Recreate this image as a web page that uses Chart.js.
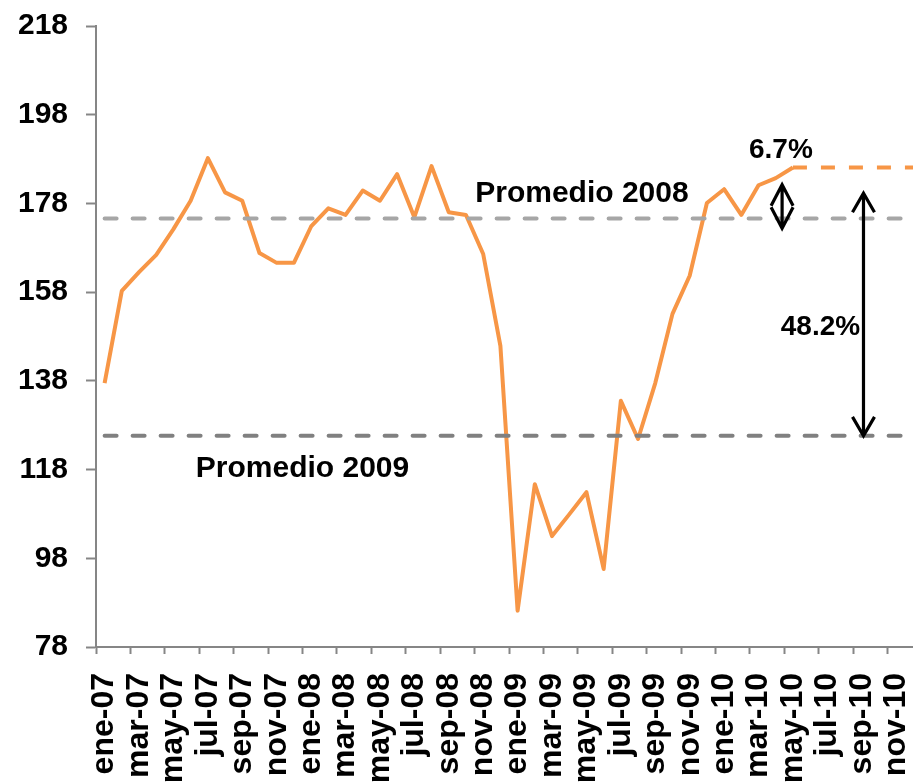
<!DOCTYPE html>
<html>
<head>
<meta charset="utf-8">
<script src="https://cdn.jsdelivr.net/npm/chart.js@4/dist/chart.umd.min.js"></script>
<style>
  html, body { margin: 0; padding: 0; background: #fff; overflow: hidden; }
  #wrap { width: 913px; height: 784px; overflow: hidden; }
  canvas { display: block; }
</style>
</head>
<body>
<div id="wrap">
  <canvas id="chart" width="922" height="784"></canvas>
</div>
<script>
const months = [
  "ene-07", "feb-07", "mar-07", "abr-07", "may-07", "jun-07", "jul-07", "ago-07", "sep-07", "oct-07", "nov-07", "dic-07",
  "ene-08", "feb-08", "mar-08", "abr-08", "may-08", "jun-08", "jul-08", "ago-08", "sep-08", "oct-08", "nov-08", "dic-08",
  "ene-09", "feb-09", "mar-09", "abr-09", "may-09", "jun-09", "jul-09", "ago-09", "sep-09", "oct-09", "nov-09", "dic-09",
  "ene-10", "feb-10", "mar-10", "abr-10", "may-10", "jun-10", "jul-10", "ago-10", "sep-10", "oct-10", "nov-10", "dic-10"
];

// monthly index, ene-07 .. may-10
const indice = [
  137.5, 158.3, 162.5, 166.4, 172.2, 178.6, 188.2, 180.5, 178.6, 166.8, 164.6, 164.6,
  172.8, 176.9, 175.4, 180.9, 178.6, 184.6, 174.9, 186.4, 176.0, 175.4, 166.6, 145.9,
  86.2, 114.7, 103.0, 107.9, 112.9, 95.6, 133.5, 124.9, 137.5, 153.1, 161.7, 178.1,
  181.2, 175.4, 182.1, 183.7, 186.1
];

// projection may-10 .. dic-10
const proyeccion = [186.1, 186.1, 186.1, 186.1, 186.1, 186.1, 186.1, 186.1];

const promedio2008 = 174.6;
const promedio2009 = 125.6;

const yTicks = [78, 98, 118, 138, 158, 178, 198, 218];

const serieIndice = months.map((_, i) => (i < indice.length ? indice[i] : null));
const serieProyeccion = months.map((_, i) => {
  const j = i - (indice.length - 1);
  return j >= 0 ? proyeccion[j] : null;
});

const ORANGE = "#F79646";
const AXIS = "#868686";
const FONT = "'Liberation Sans', Arial, sans-serif";

function drawArrow(ctx, x, yTop, yBottom, headLen, headHalf) {
  ctx.beginPath();
  ctx.moveTo(x, yTop);
  ctx.lineTo(x, yBottom);
  ctx.moveTo(x - headHalf, yTop + headLen);
  ctx.lineTo(x, yTop);
  ctx.lineTo(x + headHalf, yTop + headLen);
  ctx.moveTo(x - headHalf, yBottom - headLen);
  ctx.lineTo(x, yBottom);
  ctx.lineTo(x + headHalf, yBottom - headLen);
  ctx.stroke();
}

const anotaciones = {
  id: "anotaciones",
  afterDatasetsDraw(chart) {
    const { ctx, scales: { x, y } } = chart;
    ctx.save();
    ctx.fillStyle = "#000";
    ctx.textAlign = "center";
    ctx.textBaseline = "alphabetic";

    ctx.font = "bold 30px " + FONT;
    ctx.fillText("Promedio 2008", x.getPixelForValue(27.74), y.getPixelForValue(178.4));
    ctx.fillText("Promedio 2009", x.getPixelForValue(11.5), y.getPixelForValue(116.4));

    ctx.font = "bold 28px " + FONT;
    ctx.fillText("6.7%", x.getPixelForValue(39.3), y.getPixelForValue(188.2));
    ctx.fillText("48.2%", x.getPixelForValue(41.6), y.getPixelForValue(148.3));

    ctx.strokeStyle = "#000";
    ctx.lineWidth = 3.2;
    ctx.lineJoin = "miter";
    drawArrow(ctx, x.getPixelForValue(39.37), y.getPixelForValue(182.2), y.getPixelForValue(172.4), 21, 11);
    drawArrow(ctx, x.getPixelForValue(44.1), y.getPixelForValue(180.3), y.getPixelForValue(promedio2009), 19, 11);
    ctx.restore();
  }
};

const ctx = document.getElementById("chart").getContext("2d");

new Chart(ctx, {
  type: "line",
  data: {
    labels: months,
    datasets: [
      {
        label: "Promedio 2008",
        data: months.map(() => promedio2008),
        borderColor: "#A6A6A6",
        borderWidth: 4,
        borderDash: [12, 16],
        borderCapStyle: "round",
        pointRadius: 0,
      },
      {
        label: "Promedio 2009",
        data: months.map(() => promedio2009),
        borderColor: "#808080",
        borderWidth: 4,
        borderDash: [12, 16],
        borderCapStyle: "round",
        pointRadius: 0,
      },
      {
        label: "Índice",
        data: serieIndice,
        borderColor: ORANGE,
        borderWidth: 4,
        borderJoinStyle: "round",
        pointRadius: 0,
        spanGaps: false,
      },
      {
        label: "Proyección",
        data: serieProyeccion,
        borderColor: ORANGE,
        borderWidth: 4,
        borderDash: [14, 14],
        pointRadius: 0,
      },
    ],
  },
  options: {
    responsive: false,
    maintainAspectRatio: false,
    animation: false,
    devicePixelRatio: 1,
    layout: { padding: { top: 26, right: 0, bottom: 0, left: 0 } },
    plugins: {
      legend: { display: false },
      tooltip: { enabled: false },
    },
    elements: { line: { tension: 0 } },
    scales: {
      x: {
        offset: true,
        border: { color: AXIS, width: 2 },
        grid: {
          offset: true,
          drawOnChartArea: false,
          drawTicks: true,
          tickLength: 7,
          tickWidth: 2,
          tickColor: (c) => (c.index % 2 === 0 ? AXIS : "rgba(0,0,0,0)"),
        },
        ticks: {
          autoSkip: false,
          maxRotation: 90,
          minRotation: 90,
          padding: 19,
          color: "#000",
          font: { family: FONT, size: 32, weight: "bold" },
          callback: (val, i) => (i % 2 === 0 ? months[i] : ""),
        },
        afterFit: (scale) => {
          scale.height = 137;
          scale.paddingLeft = 0;
          scale.paddingRight = 0;
        },
      },
      y: {
        min: yTicks[0],
        max: yTicks[yTicks.length - 1],
        border: { color: AXIS, width: 2 },
        grid: {
          drawOnChartArea: false,
          tickLength: 10,
          tickWidth: 2,
          tickColor: AXIS,
        },
        afterBuildTicks: (scale) => {
          scale.ticks = yTicks.map((v) => ({ value: v }));
        },
        ticks: {
          padding: 18,
          color: "#000",
          font: { family: FONT, size: 30, weight: "bold" },
        },
        afterFit: (scale) => {
          scale.width = 96;
          scale.paddingTop = 0;
          scale.paddingBottom = 0;
        },
      },
    },
  },
  plugins: [anotaciones],
});
</script>
</body>
</html>
